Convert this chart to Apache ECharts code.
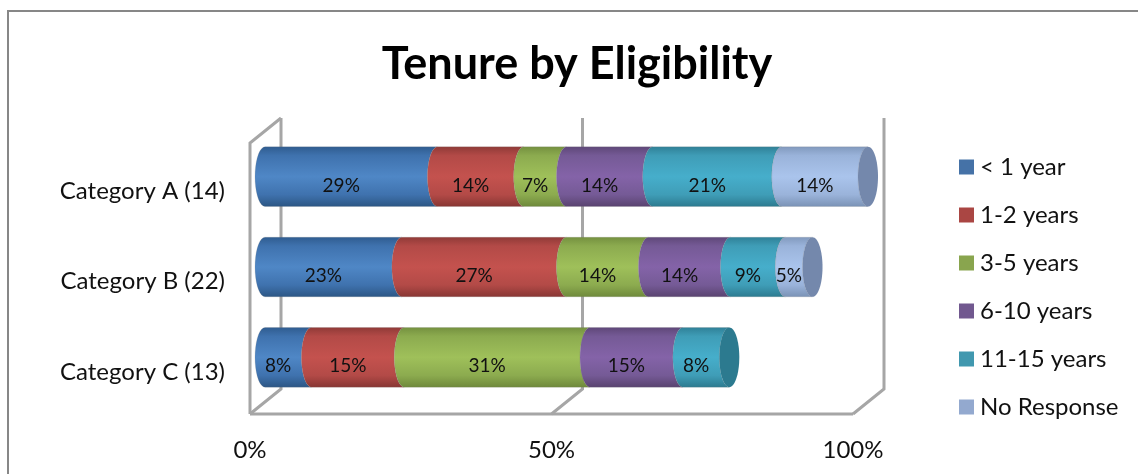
<!DOCTYPE html>
<html><head><meta charset="utf-8">
<style>html,body{margin:0;padding:0;background:#fff}#c{width:1138px;height:474px}</style>
<script src="https://cdn.jsdelivr.net/npm/echarts@6/dist/echarts.min.js"></script>
</head><body><div id="c"></div>
<script>
const categories = ['Category A (14)', 'Category B (22)', 'Category C (13)'];
const seriesNames = ['< 1 year', '1-2 years', '3-5 years', '6-10 years', '11-15 years', 'No Response'];
const under1Year = [28.6, 22.7, 7.7];
const years1to2 = [14.3, 27.3, 15.4];
const years3to5 = [7.1, 13.6, 30.8];
const years6to10 = [14.3, 13.6, 15.4];
const years11to15 = [21.4, 9.1, 7.7];
const noResponse = [14.3, 4.5, null];
const allValues = [under1Year, years1to2, years3to5, years6to10, years11to15, noResponse];
const xTicks = [0, 50, 100];
const swatch = ['#4572A7', '#AA4643', '#89A54E', '#71588F', '#4198AF', '#93A9CF'];
const shade = [
  ['#2f5c8f', '#3f72ae', '#4f87c6', '#2c5684'],
  ['#8f3a37', '#b34a47', '#c4524e', '#873633'],
  ['#74903f', '#8cab4f', '#9fc05a', '#6e893b'],
  ['#5e4778', '#755a96', '#8463a8', '#59436f'],
  ['#2f8097', '#3f9db7', '#46aecb', '#2c7a8f'],
  ['#8199bd', '#9ab3da', '#aac4ec', '#7a92b5']
];
const capShade = ['#2c5684','#873633','#6e893b','#59436f','#2c7a8f','#7488ac'];
const FONT = 'Lato';
const DX = 31, DY = -25;
const FRAME = '#a6a6a6';

function grad(c){return {type:'linear',x:0,y:0,x2:0,y2:1,colorStops:[
  {offset:0,color:c[0]},{offset:.15,color:c[1]},{offset:.5,color:c[2]},{offset:.8,color:c[1]},{offset:1,color:c[3]}]};}

function cylinderItem(si){
  return function(params, api){
    const start=api.value(0), end=api.value(1), cat=api.value(2), isLast=api.value(3);
    const p0=api.coord([start,cat]), p1=api.coord([end,cat]);
    const band=api.size([0,1])[1];
    const h=band*0.66, ry=h/2, rx=10;
    const cy=p0[1]-11.5;
    const cx0=p0[0]+15, cx1=p1[0]+15;
    const pts=[];
    for(let a=-90;a>=-270;a-=10){const r=a*Math.PI/180;pts.push([cx1+rx*Math.cos(r),cy+ry*Math.sin(r)]);}
    for(let a=-270;a<=-90;a+=10){const r=a*Math.PI/180;pts.push([cx0+rx*Math.cos(r),cy+ry*Math.sin(r)]);}
    const children=[{type:'polygon',shape:{points:pts},style:{fill:grad(shade[si]),stroke:'rgba(120,120,120,0.35)',lineWidth:0.5}}];
    if(isLast){children.push({type:'ellipse',shape:{cx:cx1,cy:cy,rx:rx,ry:ry},style:{fill:capShade[si]}});}
    const val=end-start;
    children.push({type:'text',style:{text:Math.round(val)+'%',x:(cx0+cx1)/2-10,y:cy+9,
      align:'center',verticalAlign:'middle',font:'19px '+FONT,fill:'#111'},z2:10});
    return {type:'group',children:children};
  };
}
function frameItem(params, api){
  const v=api.value(0);
  const cs=params.coordSys;
  const x=api.coord([v,0])[0];
  const top=cs.y, bot=cs.y+cs.height;
  const stroke={stroke:FRAME,lineWidth:3,fill:'none'};
  const ch=[
    {type:'polyline',shape:{points:[[x,bot],[x+DX,bot+DY],[x+DX,top+DY]]},style:stroke}
  ];
  if(v===xTicks[0]){
    ch.push({type:'polyline',shape:{points:[[x+DX,top+DY],[x,top],[x,bot]]},style:stroke});
    ch.push({type:'line',shape:{x1:x,y1:bot,x2:cs.x+cs.width,y2:bot},style:stroke});
  }
  return {type:'group',children:ch};
}
const series=[{type:'custom',name:'frame',silent:true,z:1,renderItem:frameItem,encode:{x:0},
  data:xTicks.map(v=>[v]),clip:false}];
seriesNames.forEach((n,si)=>{
  const data=[];
  categories.forEach((c,ci)=>{
    const v=allValues[si][ci];
    if(v==null) return;
    let s=0; for(let k=0;k<si;k++) s+=allValues[k][ci]||0;
    let last=1; for(let k=si+1;k<allValues.length;k++) if(allValues[k][ci]!=null) last=0;
    data.push([s,s+v,ci,last]);
  });
  series.push({type:'custom',name:n,z:3,clip:false,renderItem:cylinderItem(si),
    itemStyle:{color:swatch[si]},encode:{x:[0,1],y:2},data:data});
});
const chart=echarts.init(document.getElementById('c'),null,{renderer:'canvas'});
chart.setOption({
  animation:false,
  backgroundColor:'#fff',
  title:{text:'Tenure by Eligibility',left:572,top:37,textAlign:'center',
    textStyle:{fontFamily:FONT,fontSize:45,fontWeight:'bold',color:'#000'}},
  grid:{left:250,top:143,width:603,height:271},
  legend:{orient:'vertical',left:954,top:150,itemWidth:15,itemHeight:15,itemGap:24,icon:'rect',
    data:seriesNames,textStyle:{fontFamily:FONT,fontSize:24,color:'#111',padding:[0,0,0,1]}},
  xAxis:{type:'value',min:0,max:100,interval:50,axisLine:{show:false},axisTick:{show:false},splitLine:{show:false},
    axisLabel:{formatter:'{value}%',fontFamily:FONT,fontSize:24,color:'#111',margin:24}},
  yAxis:{type:'category',data:categories,inverse:true,axisLine:{show:false},axisTick:{show:false},
    axisLabel:{fontFamily:FONT,fontSize:24,color:'#111',margin:25,verticalAlign:'top',lineHeight:6}},
  graphic:[{type:'polyline',silent:true,z:-1,shape:{points:[[8,474],[8,11],[1138,11]]},
    style:{stroke:'#878787',lineWidth:2,fill:'none'}}],
  series:series
});
</script></body></html>
